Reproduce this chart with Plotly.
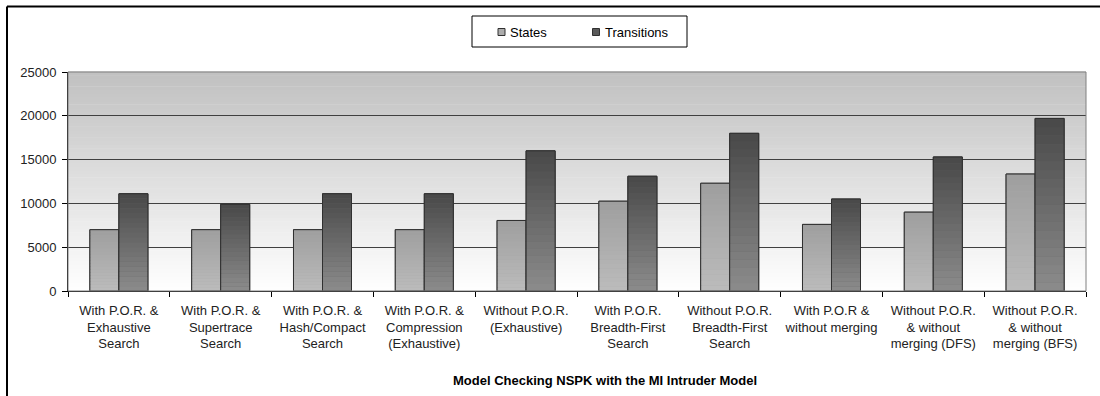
import plotly.graph_objects as go

categories = [
    "With P.O.R. &<br>Exhaustive<br>Search",
    "With P.O.R. &<br>Supertrace<br>Search",
    "With P.O.R. &<br>Hash/Compact<br>Search",
    "With P.O.R. &<br>Compression<br>(Exhaustive)",
    "Without P.O.R.<br>(Exhaustive)",
    "With P.O.R.<br>Breadth-First<br>Search",
    "Without P.O.R.<br>Breadth-First<br>Search",
    "With P.O.R &<br>without merging",
    "Without P.O.R.<br>& without<br>merging (DFS)",
    "Without P.O.R.<br>& without<br>merging (BFS)",
]
states = [7000, 7000, 7000, 7000, 8050, 10250, 12300, 7600, 9000, 13350]
transitions = [11100, 9900, 11100, 11100, 16000, 13100, 18000, 10500, 15300, 19700]
y_ticks = [0, 5000, 10000, 15000, 20000, 25000]
y_tick_labels = ["0", "5000", "10000", "15000", "20000", "25000"]
series_names = ["States", "Transitions"]
title_text = "Model Checking NSPK with the MI Intruder Model"

FONT = "Liberation Sans, Arial, sans-serif"
W, H = 1100, 396
ML, MR, MT, MB = 68, 14, 72, 105
PW = W - ML - MR
PH = H - MT - MB


def px_x(px):
    return (px - ML) / PW


def px_y(py):
    return (H - MB - py) / PH


def lerp_gray(a, b, t):
    v = round(a + (b - a) * t)
    return f"rgb({v},{v},{v})"


fig = go.Figure()

series = [
    (series_names[0], states, "s", 158, 188, "rgb(172,172,172)"),
    (series_names[1], transitions, "t", 72, 140, "rgb(104,104,104)"),
]
N = 20
for name, vals, grp, top_c, bot_c, mid_c in series:
    fig.add_trace(go.Bar(
        x=categories, y=vals, name=name, offsetgroup=grp,
        marker=dict(color=mid_c, line=dict(color="#303030", width=1)),
        hoverinfo="skip",
    ))
    for k in range(N):
        base = [v * k / N for v in vals]
        h = [v / N * 1.02 for v in vals]
        fig.add_trace(go.Bar(
            x=categories, y=h, base=base, offsetgroup=grp, hoverinfo="skip",
            marker=dict(color=lerp_gray(bot_c, top_c, (k + 0.5) / N), line=dict(width=0)),
        ))
    fig.add_trace(go.Bar(
        x=categories, y=vals, offsetgroup=grp, hoverinfo="skip",
        marker=dict(color="rgba(0,0,0,0)", line=dict(color="#303030", width=1)),
    ))

shapes = []
# background gradient in plot area
NB = 60
for i in range(NB):
    t = (i + 0.5) / NB
    shapes.append(dict(type="rect", xref="x domain", yref="y domain",
                       x0=0, x1=1, y0=i / NB, y1=(i + 1) / NB + 0.002, layer="below",
                       line=dict(width=0), fillcolor=lerp_gray(255, 192, t)))
# plot area border (gray)
shapes.append(dict(type="rect", xref="x domain", yref="y domain", x0=0, x1=1, y0=0, y1=1,
                   layer="above", line=dict(color="#808080", width=1), fillcolor="rgba(0,0,0,0)"))
# chart outer border (top and left)
shapes.append(dict(type="line", xref="paper", yref="paper", x0=px_x(7), x1=px_x(1110),
                   y0=px_y(6.5), y1=px_y(6.5), line=dict(color="black", width=2)))
shapes.append(dict(type="line", xref="paper", yref="paper", x0=px_x(7), x1=px_x(7),
                   y0=px_y(6.5), y1=px_y(410), line=dict(color="black", width=2)))
# legend box and swatches
shapes.append(dict(type="rect", xref="paper", yref="paper", x0=px_x(472), x1=px_x(687),
                   y0=px_y(16), y1=px_y(47), line=dict(color="black", width=1), fillcolor="white"))
shapes.append(dict(type="rect", xref="paper", yref="paper", x0=px_x(498), x1=px_x(505),
                   y0=px_y(28.5), y1=px_y(35.5), line=dict(color="#303030", width=1),
                   fillcolor="rgb(172,172,172)"))
shapes.append(dict(type="rect", xref="paper", yref="paper", x0=px_x(592.5), x1=px_x(599.5),
                   y0=px_y(28.5), y1=px_y(35.5), line=dict(color="#303030", width=1),
                   fillcolor="rgb(90,90,90)"))

annotations = [
    dict(text=f"<b>{title_text}</b>", xref="paper", yref="paper",
         x=px_x(605), y=px_y(380), xanchor="center", yanchor="middle",
         showarrow=False, font=dict(family=FONT, size=13, color="black")),
    dict(text=series_names[0], xref="paper", yref="paper", x=px_x(508), y=px_y(32),
         xanchor="left", yanchor="middle", showarrow=False,
         font=dict(family=FONT, size=13, color="black")),
    dict(text=series_names[1], xref="paper", yref="paper", x=px_x(602.5), y=px_y(32),
         xanchor="left", yanchor="middle", showarrow=False,
         font=dict(family=FONT, size=13, color="black")),
]

fig.update_layout(
    width=W, height=H,
    margin=dict(l=ML, r=MR, t=MT, b=MB, pad=0),
    paper_bgcolor="white", plot_bgcolor="white",
    barmode="group", bargap=0.43, bargroupgap=0.0,
    font=dict(family=FONT, size=13, color="black"),
    shapes=shapes, annotations=annotations,
    showlegend=False,
)
fig.update_xaxes(
    type="category", showline=True, linecolor="black", linewidth=1,
    ticks="outside", ticklen=5, tickcolor="black", tickson="boundaries",
    ticklabelstandoff=7,
    showgrid=False, tickfont=dict(family=FONT, size=13, color="#222"),
)
fig.update_yaxes(
    range=[0, 25000], tickvals=y_ticks, ticktext=y_tick_labels,
    showline=True, linecolor="black", linewidth=1,
    ticks="outside", ticklen=5, tickcolor="black", ticklabelstandoff=3,
    showgrid=True, gridcolor="#404040", gridwidth=1, zeroline=False,
    tickfont=dict(family=FONT, size=13, color="#222"),
)

fig.write_html("out.html", config={"displayModeBar": False},
               post_script="document.body.style.margin='0';")
